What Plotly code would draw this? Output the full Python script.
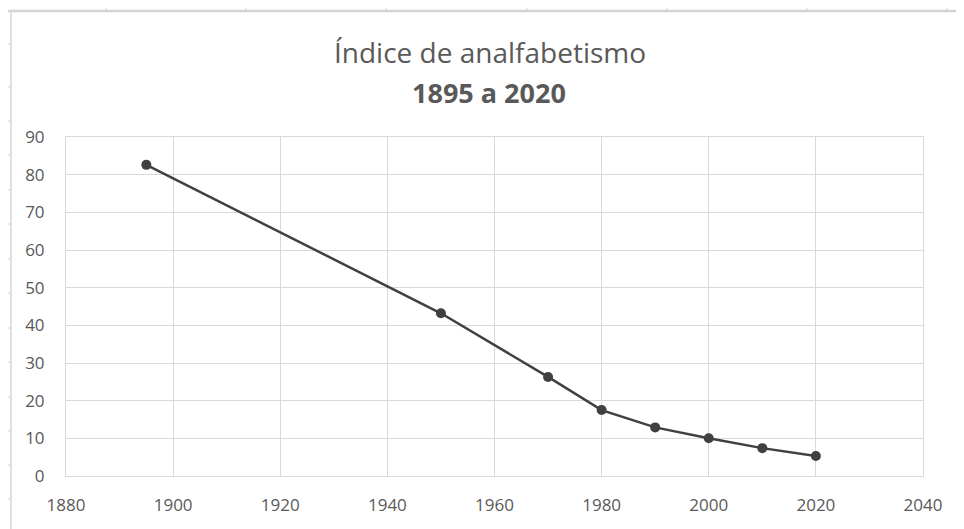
import plotly.graph_objects as go

years = [1895, 1950, 1970, 1980, 1990, 2000, 2010, 2020]
rates = [82.6, 43.2, 26.3, 17.5, 12.9, 10.0, 7.4, 5.3]
x_ticks = [1880, 1900, 1920, 1940, 1960, 1980, 2000, 2020, 2040]
y_ticks = [0, 10, 20, 30, 40, 50, 60, 70, 80, 90]
title_main = "Índice de analfabetismo"
title_sub = "1895 a 2020"

FONT = "Open Sans, sans-serif"
GRID = "#d9d9d9"
TXT = "#595959"
FRAME = "#d4d4d4"

# page body has an 8px default margin; work in page pixels and convert
OFF = 8
W, H = 964 - OFF, 529 - OFF
L, R, T, B = 66 - OFF, W - (923 - OFF), 137 - OFF, H - (476 - OFF)
PW, PH = W - L - R, H - T - B


def px(xpage):
    return (xpage - OFF - L) / PW


def py(ypage):
    return 1 - (ypage - OFF - T) / PH


fig = go.Figure()
fig.add_trace(go.Scatter(
    x=years, y=rates, mode="lines+markers",
    line=dict(color="#404040", width=2.5),
    marker=dict(color="#404040", size=10),
    showlegend=False,
    cliponaxis=False,
))

fig.update_layout(
    width=W, height=H,
    paper_bgcolor="white", plot_bgcolor="white",
    margin=dict(l=L, r=R, t=T, b=B),
    font=dict(family=FONT, color=TXT, size=17),
    xaxis=dict(
        range=[1880, 2040], tickvals=x_ticks, showgrid=True, gridcolor=GRID,
        gridwidth=1, zeroline=False, showline=True, linecolor=GRID, mirror=True,
        ticks="", ticklabelstandoff=14, tickfont=dict(size=17, color=TXT),
    ),
    yaxis=dict(
        range=[0, 90], tickvals=y_ticks, showgrid=True, gridcolor=GRID,
        gridwidth=1, zeroline=False, showline=True, linecolor=GRID, mirror=True,
        ticks="", ticklabelstandoff=17, tickfont=dict(size=17, color=TXT),
    ),
    annotations=[
        dict(text=title_main, xref="paper", yref="paper", x=px(490), y=py(52),
             xanchor="center", yanchor="middle", showarrow=False,
             font=dict(family=FONT, size=28, color=TXT)),
        dict(text=f"<b>{title_sub}</b>", xref="paper", yref="paper", x=px(489), y=py(92),
             xanchor="center", yanchor="middle", showarrow=False,
             font=dict(family=FONT, size=27, color=TXT)),
    ],
)

# spreadsheet frame artifacts (top and left border lines with small ticks)
shapes = [
    dict(type="line", xref="paper", yref="paper", x0=px(7), x1=px(964),
         y0=py(11), y1=py(11), line=dict(color=FRAME, width=2.5)),
    dict(type="line", xref="paper", yref="paper", x0=px(11), x1=px(11),
         y0=py(11), y1=py(529), line=dict(color="#e0e0e0", width=2)),
]
for xp in [106, 246, 386, 527, 667, 807, 947]:
    shapes.append(dict(type="line", xref="paper", yref="paper", x0=px(xp), x1=px(xp),
                       y0=py(11), y1=py(6), line=dict(color=FRAME, width=1)))
for yp in [44, 87, 121, 155, 190, 224, 259, 293, 328, 362, 397, 431, 465, 499]:
    shapes.append(dict(type="line", xref="paper", yref="paper",
                       x0=px(7), x1=px(11), y0=py(yp), y1=py(yp),
                       line=dict(color=FRAME, width=1)))
fig.update_layout(shapes=shapes)

fig.write_html("out.html")
